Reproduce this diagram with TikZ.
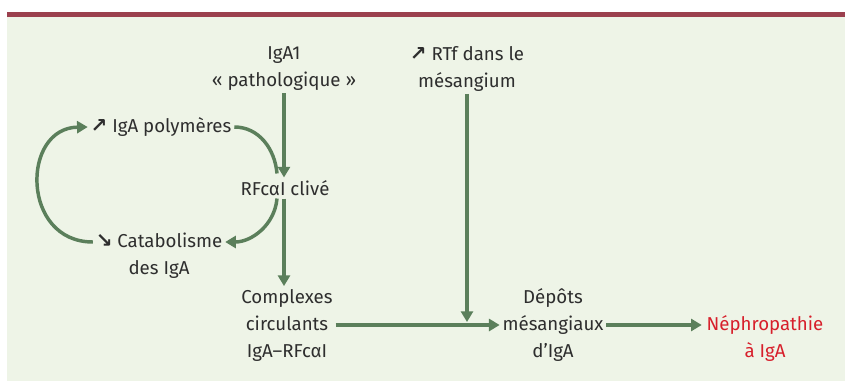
\documentclass[tikz,border=0pt]{standalone}
\usepackage{fontspec}
\setmainfont{Fira Sans}
\newfontfamily\symfont{DejaVu Sans}
\usetikzlibrary{arrows.meta,calc}
\definecolor{barc}{HTML}{9B404E}
\definecolor{bgc}{HTML}{EEF4E7}
\definecolor{arrc}{HTML}{5B7F5B}
\definecolor{redc}{HTML}{D71F2B}
\definecolor{txtc}{HTML}{2E2E2E}
\newcommand{\upar}{{\symfont\bfseries\fontsize{15}{15}\selectfont ↗}}
\newcommand{\dnar}{{\symfont\bfseries\fontsize{15}{15}\selectfont ↘}}
\begin{document}
\begin{tikzpicture}[x=0.75pt,y=-0.75pt,
  lbl/.style={align=center,inner sep=2pt,text=txtc,font=\fontsize{14}{20.25}\selectfont},
  arr/.style={draw=arrc,line width=2.6pt,-{Triangle[length=8pt,width=9pt]}},
  lin/.style={draw=arrc,line width=2.6pt}]
\useasboundingbox (0,0) rectangle (845,381);
\fill[bgc] (7,17) rectangle (845,381);
\fill[barc] (7,12) rectangle (845,17.5);

\node[lbl] (iga1) at (284,68.5) {IgA1\\« pathologique »};
\node[lbl] (rtf) at (467,68.5) {\upar\ RTf dans le\\mésangium};
\node[lbl] (poly) at (161,127) {\upar\ IgA polymères};
\node[lbl] (rfc) at (285,188) {RFcαI clivé};
\node[lbl] (cat) at (159,255.5) {\dnar\ Catabolisme\\des IgA};
\node[lbl] (comp) at (287,325) {Complexes\\circulants\\IgA–RFcαI};
\node[lbl] (dep) at (553,325) {Dépôts\\mésangiaux\\d’IgA};
\node[lbl,text=redc] (neph) at (765,339) {Néphropathie\\à IgA};

\draw[arr] (iga1.south) -- (iga1.south |- rfc.north);
\draw[arr] (rfc.south -| iga1.south) -- (comp.north -| iga1.south);
\draw[arr] (rtf.south) -- ($(rtf.south |- comp.east)+(0,-3)$);
\draw[arr] (comp.east) -- (dep.west);
\draw[arr] (dep.east) -- ($(neph.west |- dep.east)+(-2,0)$);
\draw[lin] (poly.east) to[out=0,in=95] ($(rfc.north)+(-8,-4)$);
\draw[arr] ($(rfc.south)+(-8,0)$) to[out=-95,in=0] (cat.north east |- 0,242);
\draw[arr] (cat.west |- 0,242) .. controls (21,242) and (21,128) .. (poly.west);
\end{tikzpicture}
\end{document}
